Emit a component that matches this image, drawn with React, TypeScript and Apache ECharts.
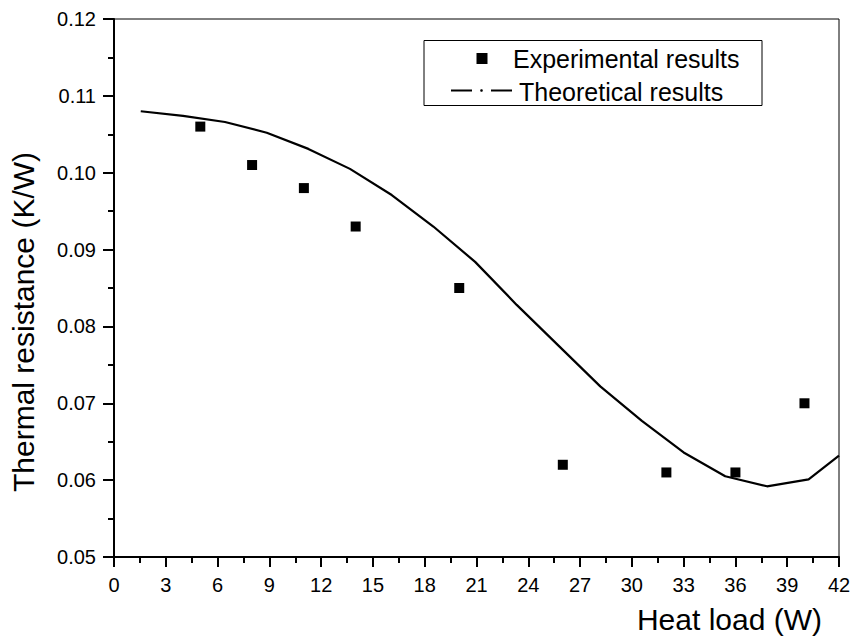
import React, { useEffect, useRef } from "react";
import * as echarts from "echarts";

const expX = [5, 8, 11, 14, 20, 26, 32, 36, 40];
const expY = [0.106, 0.101, 0.098, 0.093, 0.085, 0.062, 0.061, 0.061, 0.07];

const theoX = [1.55, 4.0, 6.43, 8.85, 11.26, 13.67, 16.09, 18.5, 20.92, 23.33, 25.75, 28.17, 30.58, 33.0, 35.41, 37.83, 40.24, 42.0];
const theoY = [0.108, 0.1074, 0.1066, 0.1052, 0.1031, 0.1005, 0.0971, 0.093, 0.0884, 0.0828, 0.0775, 0.0722, 0.0677, 0.0636, 0.0605, 0.0592, 0.0601, 0.0632];

const legendLabels = ["Experimental results", "Theoretical results"];
const xTitle = "Heat load (W)";
const yTitle = "Thermal resistance (K/W)";

const FONT = "Liberation Sans, Arial, Helvetica, sans-serif";

export default function App() {
  const ref = useRef<HTMLDivElement>(null);
  useEffect(() => {
    document.body.style.margin = "0";
    const chart = echarts.init(ref.current!, null, { renderer: "svg" });
    chart.setOption({
      animation: false,
      backgroundColor: "#fff",
      grid: {
        left: 114,
        top: 19,
        width: 725,
        height: 538,
        show: true,
        borderColor: "#000",
        borderWidth: 1,
        backgroundColor: "transparent",
      },
      xAxis: {
        type: "value",
        min: 0,
        max: 42,
        interval: 3,
        axisLine: { show: true, onZero: false, lineStyle: { color: "#000", width: 2 } },
        axisTick: { show: true, length: 10, lineStyle: { color: "#000", width: 2 } },
        minorTick: { show: true, splitNumber: 2, length: 6, lineStyle: { color: "#000", width: 2 } },
        splitLine: { show: false },
        axisLabel: { color: "#000", fontSize: 20, fontFamily: FONT, margin: 18 },
      },
      yAxis: {
        type: "value",
        min: 0.05,
        max: 0.12,
        interval: 0.01,
        axisLine: { show: true, onZero: false, lineStyle: { color: "#000", width: 2 } },
        axisTick: { show: true, length: 11, lineStyle: { color: "#000", width: 2 } },
        minorTick: { show: true, splitNumber: 2, length: 6, lineStyle: { color: "#000", width: 2 } },
        splitLine: { show: false },
        axisLabel: {
          color: "#000",
          fontSize: 20,
          fontFamily: FONT,
          margin: 18,
          formatter: (v: number) => v.toFixed(2),
        },
      },
      series: [
        {
          name: legendLabels[1],
          type: "line",
          data: theoX.map((x, i) => [x, theoY[i]]),
          showSymbol: false,
          symbol: "none",
          lineStyle: { color: "#000", width: 2.2 },
          clip: true,
          z: 2,
        },
        {
          name: legendLabels[0],
          type: "scatter",
          data: expX.map((x, i) => [x, expY[i]]),
          symbol: "rect",
          symbolSize: 10,
          itemStyle: { color: "#000", opacity: 1 },
          z: 3,
        },
      ],
      graphic: [
        {
          type: "text",
          right: 855 - 822,
          top: 604,
          style: { text: xTitle, fontSize: 30, fontFamily: FONT, fill: "#000" },
        },
        {
          type: "text",
          x: 23,
          y: 322,
          rotation: Math.PI / 2,
          style: {
            text: yTitle,
            fontSize: 30,
            fontFamily: FONT,
            fill: "#000",
            align: "center",
            verticalAlign: "middle",
          },
        },
        {
          type: "rect",
          shape: { x: 424, y: 40.5, width: 338, height: 65 },
          style: { fill: "#fff", stroke: "#000", lineWidth: 1 },
          z: 10,
        },
        {
          type: "rect",
          shape: { x: 476.5, y: 53, width: 11, height: 11 },
          style: { fill: "#000" },
          z: 11,
        },
        {
          type: "line",
          shape: { x1: 451, y1: 90.5, x2: 472, y2: 90.5 },
          style: { stroke: "#000", lineWidth: 2 },
          z: 11,
        },
        {
          type: "circle",
          shape: { cx: 481.5, cy: 90.5, r: 1.3 },
          style: { fill: "#000" },
          z: 11,
        },
        {
          type: "line",
          shape: { x1: 491, y1: 90.5, x2: 512, y2: 90.5 },
          style: { stroke: "#000", lineWidth: 2 },
          z: 11,
        },
        {
          type: "text",
          x: 513,
          y: 59,
          style: {
            text: legendLabels[0],
            fontSize: 25,
            fontFamily: FONT,
            fill: "#000",
            verticalAlign: "middle",
          },
          z: 11,
        },
        {
          type: "text",
          x: 519,
          y: 92,
          style: {
            text: legendLabels[1],
            fontSize: 25,
            fontFamily: FONT,
            fill: "#000",
            verticalAlign: "middle",
          },
          z: 11,
        },
      ],
    });
    return () => chart.dispose();
  }, []);
  return <div ref={ref} style={{ width: 855, height: 642 }} />;
}
